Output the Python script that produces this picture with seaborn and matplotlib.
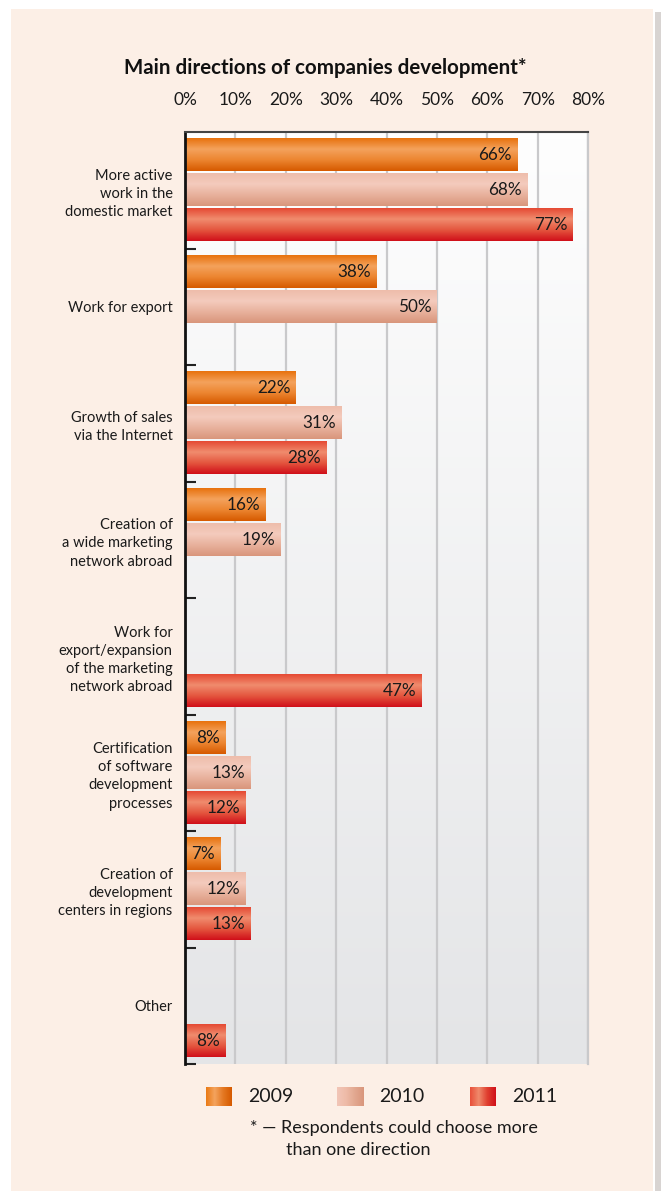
import numpy as np
import pandas as pd
import matplotlib
matplotlib.use("Agg")
import matplotlib.pyplot as plt
from matplotlib.colors import LinearSegmentedColormap
from matplotlib.patches import Rectangle
import seaborn as sns

# --- data ---
categories = [
    "More active\nwork in the\ndomestic market",
    "Work for export",
    "Growth of sales\nvia the Internet",
    "Creation of\na wide marketing\nnetwork abroad",
    "Work for\nexport/expansion\nof the marketing\nnetwork abroad",
    "Certification\nof software\ndevelopment\nprocesses",
    "Creation of\ndevelopment\ncenters in regions",
    "Other",
]
years = ["2009", "2010", "2011"]
values_2009 = [66, 38, 22, 16, None, 8, 7, None]
values_2010 = [68, 50, 31, 19, None, 13, 12, None]
values_2011 = [77, None, 28, None, 47, 12, 13, 8]
x_ticks = [0, 10, 20, 30, 40, 50, 60, 70, 80]
x_tick_labels = [f"{t}%" for t in x_ticks]

rows = []
for yr, vals in zip(years, [values_2009, values_2010, values_2011]):
    for cat, v in zip(categories, vals):
        rows.append({"Direction": cat, "Year": yr, "Share": np.nan if v is None else v})
df = pd.DataFrame(rows)

# gradient colours per year (top -> bottom of bar)
grad = {
    "2009": ["#e8720e", "#f4a25c", "#ec8530", "#d65a00"],
    "2010": ["#eebdab", "#f4cbbd", "#e8b19c", "#d9967c"],
    "2011": ["#e54a34", "#f08c6e", "#e4553e", "#d0101a"],
}
base = {"2009": "#e8760f", "2010": "#eebfae", "2011": "#e0402e"}

plt.rcParams["font.family"] = ["Lato", "DejaVu Sans"]

fig = plt.figure(figsize=(6.65, 11.91), dpi=100, facecolor="white")

# peach panel with a soft shadow on the right
fig.patches.append(Rectangle((655 / 665, 0), 6 / 665, 1 - 12 / 1191, transform=fig.transFigure,
                             facecolor="#d8d4d2", edgecolor="none", zorder=-3))
fig.patches.append(Rectangle((11 / 665, 0), 642 / 665, 1 - 9 / 1191, transform=fig.transFigure,
                             facecolor="#fcefe6", edgecolor="none", zorder=-2))

ax = fig.add_axes([185 / 665, 1 - 1064 / 1191, 403 / 665, 932 / 1191])
ax.set_facecolor("none")

sns.barplot(data=df, y="Direction", x="Share", hue="Year", order=categories,
            hue_order=years, orient="h", width=0.9, gap=0.08,
            palette=base, legend=False, ax=ax, zorder=2)

ax.set_xlim(0, 80)
ax.set_ylim(len(categories) - 0.5, -0.5)

# gradient fill for each bar
for yr, cont in zip(years, ax.containers):
    cmap = LinearSegmentedColormap.from_list(yr, grad[yr])
    g = np.linspace(0, 1, 64).reshape(-1, 1)
    for bar in cont:
        w = bar.get_width()
        if not np.isfinite(w) or w == 0:
            continue
        x0, y0, h = bar.get_x(), bar.get_y(), bar.get_height()
        ax.imshow(g, cmap=cmap, aspect="auto", extent=[x0, x0 + w, y0 + h, y0],
                  zorder=2.5, interpolation="bilinear")
        bar.set_alpha(0)
        ax.annotate(f"{w:.0f}%", xy=(x0 + w, y0 + h / 2), xytext=(-4, 0),
                    textcoords="offset points", ha="right", va="center",
                    fontsize=12.3, color="#1a1a1a", zorder=4)

ax.set_xlim(0, 80)
ax.set_ylim(len(categories) - 0.5, -0.5)

# plot background gradient white -> light grey
bg = np.linspace(0, 1, 128).reshape(-1, 1)
bg_cmap = LinearSegmentedColormap.from_list("bg", ["#fefefe", "#e4e5e7"])
ax.imshow(bg, cmap=bg_cmap, aspect="auto", extent=[0, 1, 0, 1], transform=ax.transAxes,
          zorder=0, interpolation="bilinear")

ax.set_xticks(x_ticks)
ax.set_xticklabels(x_tick_labels)
ax.xaxis.tick_top()
ax.tick_params(axis="x", length=0, pad=17, labelsize=12.5, colors="#1a1a1a")
ax.grid(axis="x", color="#c9c9cb", linewidth=1.6, zorder=1)
ax.set_axisbelow(True)

ax.set_yticks(range(len(categories)))
ax.set_yticklabels(categories, linespacing=1.38)
ax.tick_params(axis="y", which="major", length=0, pad=9, labelsize=10.5, colors="#1a1a1a")
ax.set_yticks(np.arange(0.5, len(categories), 1), minor=True)
ax.tick_params(axis="y", which="minor", direction="in", length=8, width=1.5, color="#222222")
for lbl in ax.get_yticklabels():
    lbl.set_horizontalalignment("right")

ax.set_xlabel("")
ax.set_ylabel("")
ax.spines["left"].set_color("#111111")
ax.spines["left"].set_linewidth(2)
ax.spines["top"].set_color("#444444")
ax.spines["top"].set_linewidth(1.5)
ax.spines["right"].set_color("#c9c9cb")
ax.spines["right"].set_linewidth(1.6)
ax.spines["bottom"].set_visible(False)

fig.text(325 / 665, 1 - 68 / 1191, "Main directions of companies development*",
         ha="center", va="center", fontsize=14.8, fontweight="bold", color="#111111")

# legend swatches with horizontal gradients
sw_x = [206, 337, 470]
sw_grad = {
    "2009": ["#ea7a15", "#f4a35e", "#e47822", "#d65a00"],
    "2010": ["#f2c6b8", "#eebba8", "#e2a890", "#d9967c"],
    "2011": ["#e8503a", "#f08a6c", "#e04030", "#d0101a"],
}
for yr, sx in zip(years, sw_x):
    sax = fig.add_axes([sx / 665, 1 - 1106 / 1191, 26 / 665, 19 / 1191])
    sax.imshow(np.linspace(0, 1, 64).reshape(1, -1),
               cmap=LinearSegmentedColormap.from_list("sw" + yr, sw_grad[yr]),
               aspect="auto", interpolation="bilinear")
    sax.axis("off")
    fig.text((sx + 42) / 665, 1 - 1097 / 1191, yr, ha="left", va="center",
             fontsize=14, color="#1a1a1a")

fig.text(250 / 665, 1 - 1128 / 1191, "* \u2014 Respondents could choose more",
         ha="left", va="center", fontsize=13, color="#1a1a1a")
fig.text(286 / 665, 1 - 1150 / 1191, "than one direction",
         ha="left", va="center", fontsize=13, color="#1a1a1a")

fig.savefig("out.png", dpi=100, facecolor=fig.get_facecolor())
